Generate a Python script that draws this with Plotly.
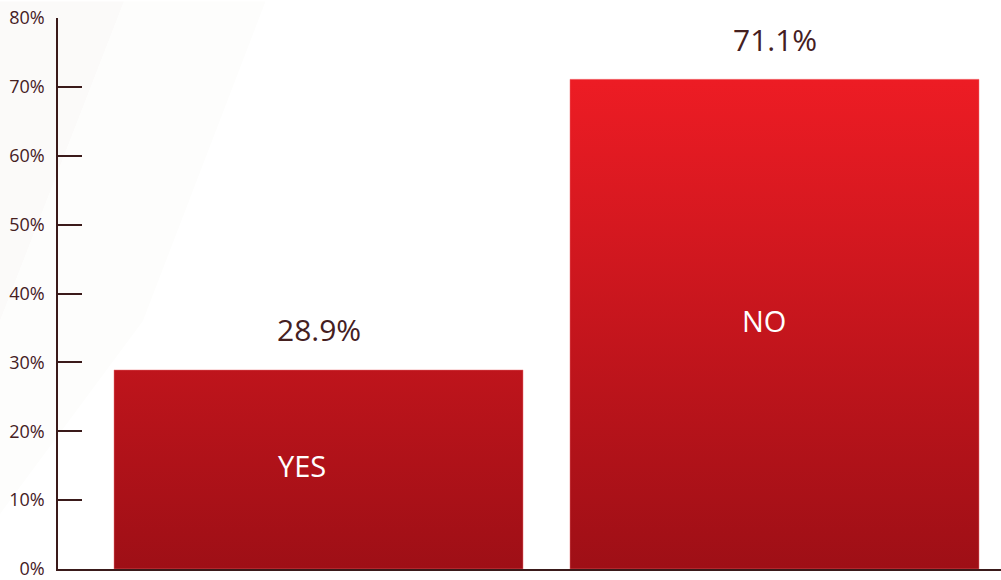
import plotly.graph_objects as go

# Survey answers and their shares (percent)
categories = ["YES", "NO"]
shares = [28.9, 71.1]
tick_values = [0, 10, 20, 30, 40, 50, 60, 70, 80]
tick_labels = ["0%", "10%", "20%", "30%", "40%", "50%", "60%", "70%", "80%"]

BAR_WIDTH = 0.897
TEXT_COLOR = "#45201f"
FONT = "Open Sans, Noto Sans, sans-serif"
NAME_SHIFT = [-17, -11]

fig = go.Figure()

top = max(shares)
for i, (cat, val) in enumerate(zip(categories, shares)):
    x0, x1 = i - BAR_WIDTH / 2, i + BAR_WIDTH / 2
    fig.add_trace(go.Scatter(
        x=[x0, x1, x1, x0, x0],
        y=[0, 0, val, val, 0],
        mode="lines",
        line=dict(width=0.8, color="rgba(240,120,125,0.6)"),
        fill="toself",
        fillgradient=dict(
            type="vertical",
            start=0,
            stop=top,
            colorscale=[[0, "#9e0f16"], [1, "#ed1c24"]],
        ),
        hoverinfo="skip",
        showlegend=False,
    ))
    # value above the bar
    fig.add_annotation(
        x=i, y=val, text=f"{val}%", showarrow=False, yshift=40,
        font=dict(size=30, color=TEXT_COLOR, family=FONT),
    )
    # category name inside the bar
    fig.add_annotation(
        x=i, y=val / 2, text=cat, showarrow=False, yshift=4,
        xshift=NAME_SHIFT[i],
        font=dict(size=29, color="white", family=FONT),
    )

fig.update_layout(
    width=1001, height=580,
    margin=dict(l=58, r=0, t=18, b=9),
    paper_bgcolor="white",
    plot_bgcolor="rgba(0,0,0,0)",
    font=dict(family=FONT, color=TEXT_COLOR),
    shapes=[
        dict(type="path", xref="paper", yref="paper", layer="below",
             path="M -0.0615 1.03 L 0.07 1.03 L -0.0615 0.45 Z",
             fillcolor="#fbfaf9", line=dict(width=0)),
        dict(type="path", xref="paper", yref="paper", layer="below",
             path="M 0.07 1.03 L 0.22 1.03 L 0.09 0.45 L -0.0615 0.1 L -0.0615 0.45 Z",
             fillcolor="#fdfdfc", line=dict(width=0)),
    ],
)

fig.update_xaxes(
    range=[-0.5713, 1.4967],
    showticklabels=False, ticks="", showgrid=False, zeroline=False,
    showline=True, linecolor="#3a1a1a", linewidth=2,
)
fig.update_yaxes(
    range=[0, 80],
    tickvals=tick_values, ticktext=tick_labels,
    ticks="inside", ticklen=24, tickwidth=1.5, tickcolor="#3a1a1a",
    showline=True, linecolor="#3a1a1a", linewidth=1.5,
    showgrid=False, zeroline=False,
    ticklabeloverflow="allow", ticklabelstandoff=8,
    tickfont=dict(size=18, color=TEXT_COLOR, family=FONT),
)

fig.write_html("out.html")
